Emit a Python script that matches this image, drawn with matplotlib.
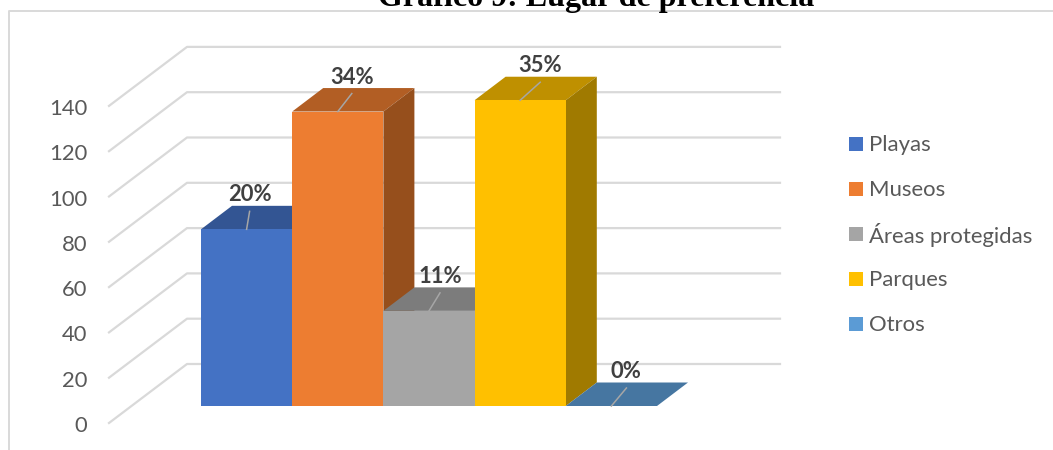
#!/usr/bin/env python3
"""Oblique 3D-look column chart, drawn on a flat axes."""

import matplotlib

matplotlib.use("Agg")
import matplotlib.pyplot as plt
from matplotlib.patches import Rectangle

categories = ["Playas", "Museos", "Áreas protegidas", "Parques", "Otros"]
values = [78, 130, 42, 135, 0]
labels = ["20%", "34%", "11%", "35%", "0%"]
y_ticks = [0, 20, 40, 60, 80, 100, 120, 140]

front_colors = ["#4472C4", "#ED7D31", "#A5A5A5", "#FFC000", "#5B9BD5"]
top_colors = ["#335593", "#B25E24", "#7C7C7C", "#BF9000", "#4676A1"]
side_colors = ["#2A4780", "#964F1C", "#686868", "#A07A00", "#3B6488"]

W, H = 1053, 450
PX_X = 91.2  # pixels per category
PX_Y = 2.265  # pixels per value unit
X0, Y0 = 201, 406  # pixel of first bar's lower left corner

DEPTH_X = 31 / PX_X
DEPTH_Y = 23.5 / PX_Y
# floor of the 3D box relative to the bar base
FLOOR_FRONT = (-92 / PX_X, -17 / PX_Y)
FLOOR_BACK = (-14 / PX_X, 42 / PX_Y)
FLOOR_RIGHT = (780 - X0) / PX_X

# the leader lines were dragged by hand in the original, so each has its own lean
LEADER_DX = [3 / PX_X, 14 / PX_X, 11 / PX_X, 20 / PX_X, 15 / PX_X]
LEADER_DY = 18 / PX_Y
LABEL_DY = 34.5 / PX_Y

GRID = "#D9D9D9"
TEXT = "#595959"
FONT = ["Lato", "DejaVu Sans"]

fig = plt.figure(figsize=(W / 100, H / 100), dpi=100)
ax = fig.add_axes([0, 0, 1, 1])
ax.set_xlim(-X0 / PX_X, (W - X0) / PX_X)
ax.set_ylim((Y0 - H) / PX_Y, Y0 / PX_Y)
ax.axis("off")


def to_x(px):
    return (px - X0) / PX_X


def to_y(py):
    return (Y0 - py) / PX_Y


# chart frame
ax.plot([to_x(9), to_x(9), to_x(1053)], [to_y(450), to_y(11), to_y(11)],
        color=GRID, lw=1.4, zorder=1, solid_capstyle="butt")

# gridlines on the floor side and the back wall
for v in y_ticks:
    ax.plot(
        [FLOOR_FRONT[0], FLOOR_BACK[0], FLOOR_RIGHT],
        [v + FLOOR_FRONT[1], v + FLOOR_BACK[1], v + FLOOR_BACK[1]],
        color=GRID, lw=1.6, zorder=1,
    )
    ax.text(to_x(87), v + FLOOR_FRONT[1] - 3 / PX_Y, str(v), ha="right", va="center",
            fontsize=15.8, color=TEXT, family=FONT)

# bars, painted left to right
z = 2
for i, v in enumerate(values):
    ax.fill([i, i + DEPTH_X, i + 1 + DEPTH_X, i + 1],
            [v, v + DEPTH_Y, v + DEPTH_Y, v],
            color=top_colors[i], lw=0, zorder=z)
    if v > 0:
        ax.fill([i + 1, i + 1 + DEPTH_X, i + 1 + DEPTH_X, i + 1],
                [0, DEPTH_Y, v + DEPTH_Y, v],
                color=side_colors[i], lw=0, zorder=z)
        ax.add_patch(Rectangle((i, 0), 1, v, color=front_colors[i], lw=0, zorder=z))
    z += 1

# data labels with leader lines
for i, v in enumerate(values):
    cx = i + 0.5
    tx = cx + LEADER_DX[i]
    ax.plot([cx, tx], [v, v + LEADER_DY], color="#A6A6A6", lw=1.1, zorder=10)
    ax.text(tx, v + LABEL_DY, labels[i], ha="center", va="center",
            fontsize=15.8, fontweight="bold", color="#404040", zorder=11, family=FONT)

# legend
legend_y = [144, 189, 234, 279, 324]
for name, color, py in zip(categories, front_colors, legend_y):
    ax.add_patch(Rectangle((to_x(849), to_y(py + 7)), 14 / PX_X, 14 / PX_Y,
                           color=color, lw=0, zorder=5))
    ax.text(to_x(869), to_y(py + 1), name, ha="left", va="center", fontsize=15.9,
            color=TEXT, family=FONT)

# the title is cut by the top edge in the reference too
ax.text(to_x(596), to_y(5.5), "Gráfico 9: Lugar de preferencia", ha="center",
        va="baseline", fontsize=23, fontweight="bold", color="black",
        family=["Liberation Serif"])

fig.savefig("out.png", dpi=100)
